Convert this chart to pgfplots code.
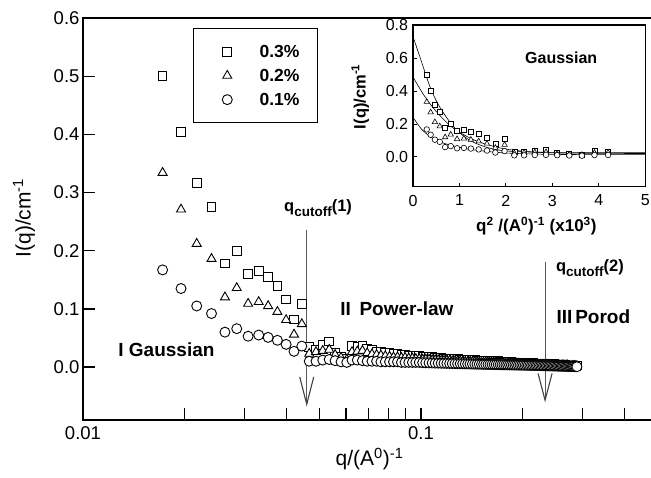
\documentclass[border=0pt]{standalone}
\usepackage{pgfplots}
\pgfplotsset{compat=1.18}
\usepackage{pgfplotstable}
\usepackage{fontspec}
\setmainfont{Liberation Sans}

\pgfplotstableread{
q a b c
0.0172 0.500 0.334 0.167
0.0195 0.404 0.271 0.135
0.0217 0.316 0.212 0.105
0.0240 0.275 0.186 0.092
0.0263 0.178 0.120 0.060
0.0285 0.200 0.136 0.066
0.0308 0.160 0.109 0.053
0.0331 0.165 0.112 0.055
0.0353 0.155 0.105 0.051
0.0376 0.140 0.095 0.046
0.0399 0.116 0.081 0.039
0.0421 0.082 0.056 0.027
0.0444 0.109 0.074 0.036
0.0467 0.034 0.023 0.010
0.0489 0.030 0.026 0.010
0.0512 0.038 0.028 0.012
0.0535 0.044 0.030 0.013
0.0557 0.024 0.021 0.011
0.0580 0.018 0.016 0.009
0.0603 0.014 0.013 0.008
0.0625 0.036 0.026 0.012
0.0648 0.034 0.027 0.012
0.0671 0.037 0.028 0.011
0.0693 0.031 0.024 0.010
0.0716 0.029 0.022 0.010
0.0739 0.027 0.021 0.010
0.0761 0.026 0.020 0.009
0.0784 0.025 0.019 0.009
0.0807 0.024 0.018 0.009
0.0829 0.023 0.017 0.009
0.0852 0.022 0.017 0.009
0.0875 0.021 0.016 0.008
0.0897 0.021 0.016 0.008
0.0920 0.020 0.015 0.008
0.0943 0.020 0.015 0.008
0.0965 0.019 0.014 0.008
0.0988 0.019 0.014 0.008
0.1011 0.018 0.013 0.0075
0.1033 0.018 0.013 0.0073
0.1056 0.017 0.013 0.0072
0.1079 0.017 0.012 0.0070
0.1101 0.016 0.012 0.0068
0.1124 0.016 0.012 0.0067
0.1147 0.016 0.011 0.0065
0.1169 0.015 0.011 0.0064
0.1192 0.015 0.011 0.0063
0.1215 0.015 0.011 0.0062
0.1237 0.014 0.010 0.0060
0.1260 0.014 0.010 0.0059
0.1283 0.014 0.010 0.0058
0.1306 0.013 0.010 0.0057
0.1328 0.013 0.009 0.0056
0.1351 0.013 0.009 0.0055
0.1374 0.012 0.009 0.0054
0.1396 0.012 0.009 0.0053
0.1419 0.012 0.009 0.0052
0.1442 0.012 0.009 0.0051
0.1464 0.011 0.008 0.0050
0.1487 0.011 0.008 0.0049
0.1510 0.011 0.008 0.0048
0.1532 0.011 0.008 0.0047
0.1555 0.011 0.008 0.0046
0.1578 0.010 0.008 0.0046
0.1600 0.010 0.007 0.0045
0.1623 0.010 0.007 0.0044
0.1646 0.010 0.007 0.0043
0.1668 0.010 0.007 0.0042
0.1691 0.010 0.007 0.0042
0.1714 0.009 0.007 0.0041
0.1736 0.009 0.007 0.0040
0.1759 0.009 0.006 0.0039
0.1782 0.009 0.006 0.0039
0.1804 0.009 0.006 0.0038
0.1827 0.009 0.006 0.0037
0.1850 0.009 0.006 0.0037
0.1872 0.008 0.006 0.0036
0.1895 0.008 0.006 0.0035
0.1918 0.008 0.006 0.0035
0.1940 0.008 0.006 0.0034
0.1963 0.008 0.005 0.0034
0.1986 0.008 0.005 0.0033
0.2008 0.008 0.005 0.0033
0.2031 0.007 0.005 0.0032
0.2054 0.007 0.005 0.0031
0.2076 0.007 0.005 0.0031
0.2099 0.007 0.005 0.0030
0.2122 0.007 0.005 0.0029
0.2144 0.007 0.005 0.0029
0.2167 0.006 0.004 0.0028
0.2190 0.006 0.004 0.0027
0.2212 0.006 0.004 0.0027
0.2235 0.006 0.004 0.0026
0.2258 0.006 0.004 0.0025
0.2280 0.006 0.004 0.0025
0.2303 0.006 0.004 0.0024
0.2326 0.005 0.004 0.0023
0.2348 0.005 0.004 0.0023
0.2371 0.005 0.004 0.0022
0.2394 0.005 0.004 0.0021
0.2416 0.005 0.003 0.0021
0.2439 0.005 0.003 0.0020
0.2462 0.005 0.003 0.0019
0.2484 0.005 0.003 0.0019
0.2507 0.004 0.003 0.0018
0.2530 0.004 0.003 0.0017
0.2552 0.004 0.003 0.0017
0.2575 0.004 0.003 0.0016
0.2598 0.004 0.003 0.0015
0.2620 0.004 0.003 0.0015
0.2643 0.004 0.003 0.0014
0.2666 0.004 0.003 0.0013
0.2688 0.003 0.003 0.0013
0.2711 0.003 0.003 0.0012
0.2734 0.003 0.002 0.0011
0.2756 0.003 0.002 0.0011
0.2779 0.003 0.002 0.0010
0.2802 0.003 0.002 0.0009
0.2824 0.003 0.002 0.0009
0.2847 0.003 0.002 0.0008
0.2870 0.003 0.002 0.0007
0.2892 0.003 0.002 0.0006
}\data

\newcommand{\fs}[1]{\fontsize{#1}{#1}\selectfont}

\begin{document}
\begin{tikzpicture}
\begin{axis}[
  name=main, at={(0pt,0pt)}, anchor=south west,
  scale only axis, width=574.3pt, height=402pt,
  xmode=log, xmin=0.01, xmax=0.5, ymin=-0.091, ymax=0.6,
  axis line style={line width=2pt},
  tick pos=left, tick align=inside,
  major tick length=12pt, minor tick length=12pt,
  tick style={line width=1.3pt, black},
  xtick={0.01,0.1}, xticklabels={0.01,0.1},
  minor xtick={0.02,0.03,0.04,0.05,0.06,0.07,0.08,0.09,0.2,0.3,0.4},
  ytick={0,0.1,0.2,0.3,0.4,0.5,0.6},
  /pgf/number format/assume math mode=true,
  yticklabel style={/pgf/number format/fixed, /pgf/number format/fixed zerofill, /pgf/number format/precision=1},
  tick label style={font=\fs{18.5}},
  xticklabel style={yshift=-3pt},
  xlabel={q/(A\textsuperscript{0})\textsuperscript{-1}},
  ylabel={I(q)/cm\textsuperscript{-1}},
  label style={font=\fs{21}},
  xlabel style={at={(axis description cs:0.499,-0.097)}, anchor=center},
  ylabel style={at={(axis description cs:-0.1027,0.5025)}, anchor=center},
  legend style={at={(0.1915,0.975)}, anchor=north west, draw=black, line width=1.2pt,
    inner xsep=0pt, inner ysep=11pt, row sep=0pt,
    nodes={inner sep=0pt, font=\bfseries\fs{17.5}, anchor=west}},
  legend image code/.code={\path[draw=none] (-33.7pt,-12pt) rectangle (32.3pt,12pt);
    \draw[#1, line width=0.9pt] plot coordinates {(0pt,0pt)};},
]
\addplot[black, only marks, mark=square*, mark size=4.35pt, mark options={fill=white, line width=0.9pt}] table[x=q, y=a]{\data};
\addlegendentry{0.3\%\hspace{17.7pt}\mbox{}}
\addplot[black, only marks, mark=triangle*, mark size=5.2pt, mark options={fill=white, line width=0.9pt}] table[x=q, y=b]{\data};
\addlegendentry{0.2\%\hspace{17.7pt}\mbox{}}
\addplot[black, only marks, mark=*, mark size=5pt, mark options={fill=white, line width=0.9pt}] table[x=q, y=c]{\data};
\addlegendentry{0.1\%\hspace{17.7pt}\mbox{}}

\draw[black!65, line width=1.1pt] (axis cs:0.04591,0.235) -- (axis cs:0.04591,-0.064);
\draw[black!75, line width=1.1pt] ([xshift=-7pt]axis cs:0.04591,-0.017) -- (axis cs:0.04591,-0.064) -- ([xshift=7pt]axis cs:0.04591,-0.017);
\draw[black!65, line width=1.1pt] (axis cs:0.2328,0.181) -- (axis cs:0.2328,-0.057);
\draw[black!75, line width=1.1pt] ([xshift=-7pt]axis cs:0.2328,-0.011) -- (axis cs:0.2328,-0.057) -- ([xshift=7pt]axis cs:0.2328,-0.011);

\node[font=\bfseries\fs{16.5}] at (axis cs:0.0496,0.273) {q\raisebox{-5pt}{\fs{13.5}cutoff}(1)};
\node[font=\bfseries\fs{16.5}] at (axis cs:0.316,0.170) {q\raisebox{-5pt}{\fs{13.5}cutoff}(2)};
\node[font=\bfseries\fs{19}] at (axis cs:0.0849,0.101) {II\hspace{0.45em}Power-law};
\node[font=\bfseries\fs{19}] at (axis cs:0.01766,0.029) {I Gaussian};
\node[font=\bfseries\fs{19}] at (axis cs:0.3235,0.0864) {III\hspace{0.15em}Porod};
\end{axis}

\begin{axis}[
  at={(330pt,233.3pt)}, anchor=south west,
  scale only axis, width=232.3pt, height=161.7pt,
  xmin=0, xmax=5, ymin=-0.18, ymax=0.8,
  axis line style={line width=1.3pt},
  tick pos=left, tick align=inside,
  major tick length=4pt,
  tick style={line width=1pt, black},
  xtick={0,1,2,3,4,5}, ytick={0,0.2,0.4,0.6,0.8},
  /pgf/number format/assume math mode=true,
  yticklabel style={/pgf/number format/fixed, /pgf/number format/fixed zerofill, /pgf/number format/precision=1, xshift=-1.4pt},
  xticklabel style={yshift=-4.7pt},
  tick label style={font=\fs{16}},
  xlabel={q\textsuperscript{2} /(A\textsuperscript{0})\textsuperscript{-1} (x10\textsuperscript{3})},
  ylabel={I(q)/cm\textsuperscript{-1}},
  label style={font=\bfseries\fs{16.5}},
  xlabel style={at={(axis description cs:0.531,-0.243)}, anchor=center, font=\bfseries\fs{17}},
  ylabel style={at={(axis description cs:-0.227,0.557)}, anchor=center},
]
\addplot[black, only marks, mark=square*, mark size=2.5pt, mark options={fill=white, line width=0.6pt}, restrict x to domain=0:4.3] table[x expr={\thisrow{q}^2*1000}, y=a]{\data};
\addplot[black, only marks, mark=triangle*, mark size=3.1pt, mark options={fill=white, line width=0.6pt}, restrict x to domain=0:4.3] table[x expr={\thisrow{q}^2*1000}, y=b]{\data};
\addplot[black, only marks, mark=*, mark size=2.8pt, mark options={fill=white, line width=0.6pt}, restrict x to domain=0:4.3] table[x expr={\thisrow{q}^2*1000}, y=c]{\data};
\addplot[black, line width=0.6pt, smooth] coordinates {(0,0.73) (0.18,0.58) (0.36,0.43) (0.54,0.32) (0.76,0.225) (0.97,0.155) (1.26,0.095) (1.62,0.056) (1.98,0.037) (2.7,0.029) (3.5,0.028) (5,0.028)};
\addplot[black, line width=0.6pt, smooth] coordinates {(0,0.485) (0.2,0.39) (0.4,0.31) (0.6,0.245) (0.8,0.19) (1.0,0.15) (1.3,0.105) (1.6,0.075) (2.0,0.048) (2.5,0.032) (3.2,0.024) (5,0.021)};
\addplot[black, line width=0.6pt, smooth] coordinates {(0,0.24) (0.18,0.17) (0.36,0.125) (0.54,0.095) (0.9,0.065) (1.26,0.045) (1.9,0.026) (2.6,0.018) (3.4,0.015) (5,0.014)};
\node[font=\bfseries\fs{16}] at (axis cs:3.19,0.60) {Gaussian};
\end{axis}
\pgfresetboundingbox
\useasboundingbox (-83pt,-57pt) rectangle (568pt,420pt);
\end{tikzpicture}
\end{document}
